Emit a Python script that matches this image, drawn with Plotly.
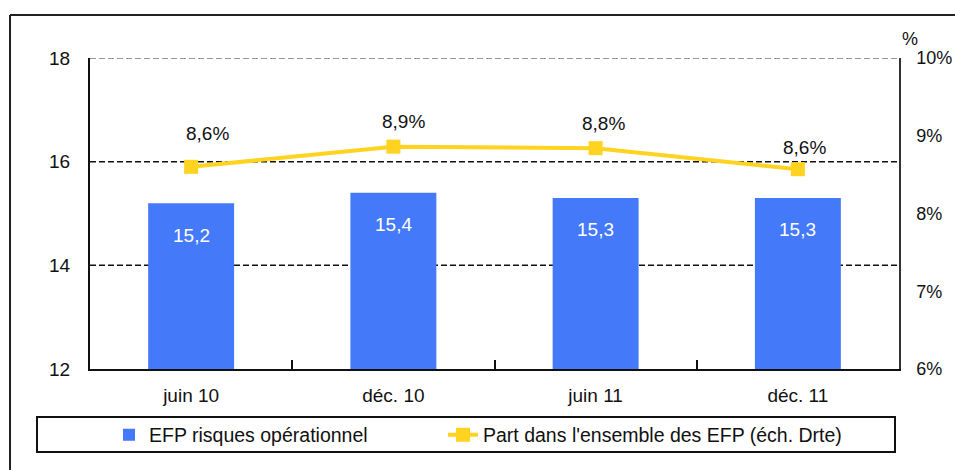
import plotly.graph_objects as go

# ---- data ----
categories = ["juin 10", "déc. 10", "juin 11", "déc. 11"]
efp_risques_op = [15.2, 15.4, 15.3, 15.3]          # left axis
part_efp_pct = [8.60, 8.86, 8.84, 8.57]             # right axis (%)
left_ticks = [12, 14, 16, 18]
right_ticks = [6, 7, 8, 9, 10]
right_tick_labels = ["6%", "7%", "8%", "9%", "10%"]

BAR_NAME = "EFP risques opérationnel"
LINE_NAME = "Part dans l'ensemble des EFP (éch. Drte)"

# ---- style / geometry (reference pixel coordinates) ----
W, H = 955, 470
L, R, T, B = 90, 899, 58, 369
FONT = "Liberation Sans, Arial, sans-serif"
BLUE = "#4479FA"
YELLOW = "#FFD320"
LINE_LABEL_DY = [33, 25, 25, 22]   # pixel offsets of the % labels
LINE_LABEL_DX = [16, 10, 8, 7]


def px(x):
    return (x - L) / (R - L)


def py(y):
    return (B - y) / (B - T)


def fr(v, suffix=""):
    return f"{v:.1f}".replace(".", ",") + suffix


fig = go.Figure()
fig.add_trace(go.Bar(
    x=categories, y=efp_risques_op, name=BAR_NAME,
    marker=dict(color=BLUE, line=dict(width=0)), width=0.425,
    legend="legend", yaxis="y",
))
fig.add_trace(go.Scatter(
    x=categories, y=part_efp_pct, name=LINE_NAME, mode="lines+markers",
    line=dict(color=YELLOW, width=4),
    marker=dict(symbol="square", size=14, color=YELLOW),
    legend="legend2", yaxis="y2",
))

annotations = []
for c, v in zip(categories, efp_risques_op):
    annotations.append(dict(x=c, y=v, xref="x", yref="y", text=fr(v),
                            showarrow=False, yshift=-32,
                            font=dict(family=FONT, size=19, color="white")))
for i, (c, v) in enumerate(zip(categories, part_efp_pct)):
    annotations.append(dict(x=c, y=v, xref="x", yref="y2", text=fr(v, "%"),
                            showarrow=False, yshift=LINE_LABEL_DY[i],
                            xshift=LINE_LABEL_DX[i],
                            font=dict(family=FONT, size=19, color="#111")))
annotations.append(dict(x=px(910), y=py(39), xref="paper", yref="paper", text="%",
                        xanchor="center", yanchor="middle",
                        showarrow=False, font=dict(family=FONT, size=18, color="#111")))

shapes = []
# outer frame (right/bottom cropped)
shapes.append(dict(type="line", xref="paper", yref="paper", x0=px(10), x1=px(10),
                   y0=py(15), y1=py(480), line=dict(color="#222", width=2)))
shapes.append(dict(type="line", xref="paper", yref="paper", x0=px(10), x1=px(970),
                   y0=py(15), y1=py(15), line=dict(color="#222", width=2)))
# gridlines
for g in left_ticks[1:]:
    col = "#777" if g == left_ticks[-1] else "#111"
    shapes.append(dict(type="line", xref="paper", yref="y", x0=0, x1=1, y0=g, y1=g,
                       line=dict(color=col, width=1.5, dash="6px,3px"), layer="below"))
# legend box
shapes.append(dict(type="rect", xref="paper", yref="paper", x0=px(37), x1=px(895),
                   y0=py(452), y1=py(417), line=dict(color="#111", width=2)))

fig.update_layout(
    width=W, height=H,
    margin=dict(l=L, r=W - R, t=T, b=H - B, autoexpand=False),
    paper_bgcolor="white", plot_bgcolor="white",
    font=dict(family=FONT, size=19, color="#111"),
    showlegend=True,
    legend=dict(orientation="h", x=px(109), y=py(435), xanchor="left", yanchor="middle",
                bgcolor="rgba(0,0,0,0)", borderwidth=0,
                font=dict(family=FONT, size=19.5, color="#111")),
    legend2=dict(orientation="h", x=px(443), y=py(435), xanchor="left", yanchor="middle",
                 bgcolor="rgba(0,0,0,0)", borderwidth=0,
                 font=dict(family=FONT, size=19.5, color="#111")),
    xaxis=dict(type="category", range=[-0.5, len(categories) - 0.5],
               showline=True, linecolor="#111", linewidth=2,
               ticks="inside", tickson="boundaries", ticklen=9, tickwidth=1.5,
               tickcolor="#111", showgrid=False, ticklabelstandoff=8,
               tickfont=dict(family=FONT, size=19, color="#111")),
    yaxis=dict(range=[left_ticks[0], left_ticks[-1]], tickvals=left_ticks,
               showgrid=False, zeroline=False, showline=True, linecolor="#111",
               linewidth=2, ticks="", ticklabelstandoff=14,
               tickfont=dict(family=FONT, size=19, color="#111")),
    yaxis2=dict(range=[right_ticks[0], right_ticks[-1]], tickmode="array",
                tickvals=right_ticks, ticktext=right_tick_labels,
                overlaying="y", side="right",
                showgrid=False, zeroline=False, showline=True, linecolor="#333",
                linewidth=1.5, ticks="", ticklabelstandoff=12,
                tickfont=dict(family=FONT, size=18, color="#111")),
    annotations=annotations,
    shapes=shapes,
)

fig.write_html(
    "out.html",
    config={"displayModeBar": False},
    post_script="document.body.style.margin='0';document.body.style.overflow='hidden';",
)
